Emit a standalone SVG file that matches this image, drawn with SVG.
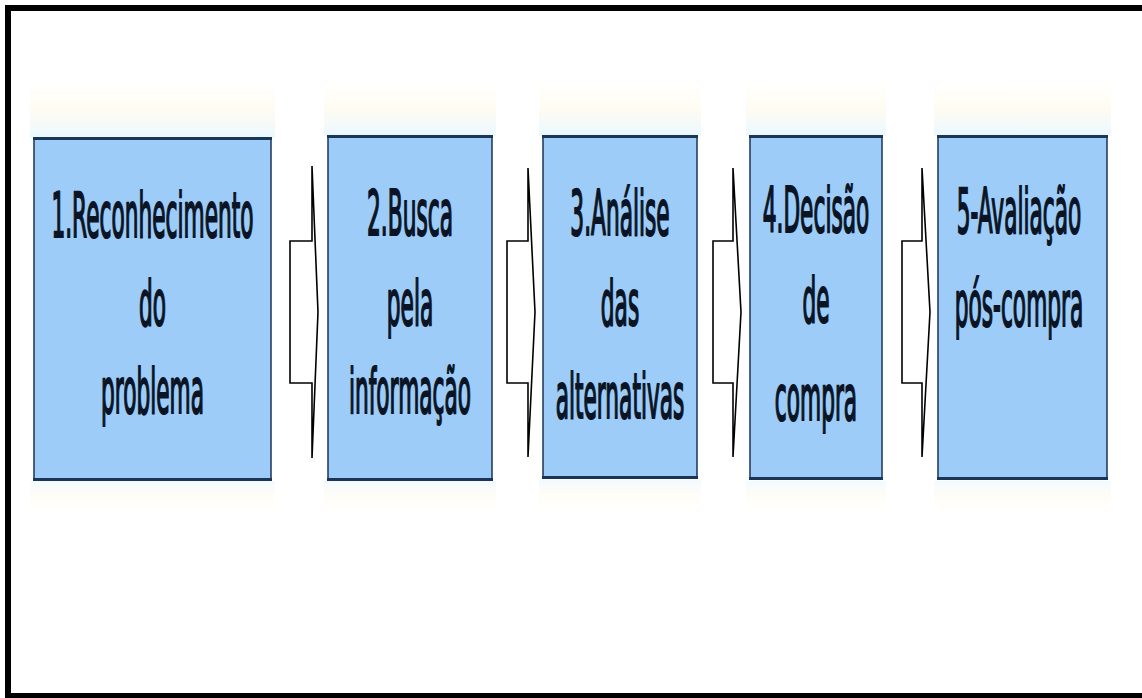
<svg xmlns="http://www.w3.org/2000/svg" width="1142" height="698" viewBox="0 0 1142 698">
<defs>
<style>
.box{fill:#9DCCF9;stroke:#1B3556;stroke-width:1.5}
.edge{fill:#1B3556}
.arrow{fill:#FFFFFF;stroke:#000000;stroke-width:1.6;stroke-linejoin:miter}
.lbl{font-family:"DejaVu Sans","Verdana",sans-serif;font-size:62px;fill:#0A1424;stroke:#0A1424;stroke-width:2.2;text-anchor:middle}
.glow{fill:url(#glowTop)}
.glowB{fill:url(#glowBot)}
</style>
<linearGradient id="glowTop" x1="0" y1="0" x2="0" y2="1">
<stop offset="0" stop-color="#FFFDF3" stop-opacity="0"/>
<stop offset="0.5" stop-color="#FFFBEF" stop-opacity="0.8"/>
<stop offset="1" stop-color="#EAF8FF" stop-opacity="1"/>
</linearGradient>
<linearGradient id="glowBot" x1="0" y1="0" x2="0" y2="1">
<stop offset="0" stop-color="#F2FAFF" stop-opacity="1"/>
<stop offset="0.5" stop-color="#FFFCF2" stop-opacity="0.7"/>
<stop offset="1" stop-color="#FFFDF3" stop-opacity="0"/>
</linearGradient>
</defs>
<rect x="0" y="0" width="1142" height="698" fill="#FFFFFF"/>
<rect x="8" y="8" width="1150" height="688" fill="none" stroke="#000000" stroke-width="6"/>

<g id="connectors">
<polygon class="arrow" points="290,241 312,241 312,166 318,312 312,458 312,383 290,383"/>
<polygon class="arrow" points="507,241 528,241 528,168 535,312 528,457 528,383 507,383"/>
<polygon class="arrow" points="713,241 733,241 733,168 741,312 733,457 733,383 713,383"/>
<polygon class="arrow" points="902,241 922,241 922,168 930,312 922,457 922,383 902,383"/>
</g>

<g id="node1">
<rect class="glow" x="30" y="80" width="245" height="58"/>
<rect class="glowB" x="30" y="481" width="245" height="32"/>
<rect class="box" x="34" y="138" width="237" height="342"/>
<rect class="edge" x="33" y="137" width="239" height="3"/>
<rect class="edge" x="33" y="478" width="239" height="3"/>
<g transform="translate(152.5,0) scale(0.35,1)">
<text class="lbl" x="0" y="237">1.Reconhecimento</text>
<text class="lbl" x="0" y="325">do</text>
<text class="lbl" x="0" y="413">problema</text>
</g>
</g>

<g id="node2">
<rect class="glow" x="324" y="78" width="172" height="58"/>
<rect class="glowB" x="324" y="481" width="172" height="32"/>
<rect class="box" x="328" y="136" width="164" height="344"/>
<rect class="edge" x="327" y="135" width="166" height="3"/>
<rect class="edge" x="327" y="478" width="166" height="3"/>
<g transform="translate(410,0) scale(0.35,1)">
<text class="lbl" x="0" y="235">2.Busca</text>
<text class="lbl" x="0" y="325">pela</text>
<text class="lbl" x="0" y="413">informação</text>
</g>
</g>

<g id="node3">
<rect class="glow" x="539" y="78" width="162" height="58"/>
<rect class="glowB" x="539" y="480" width="162" height="32"/>
<rect class="box" x="543" y="136" width="154" height="342"/>
<rect class="edge" x="542" y="135" width="156" height="3"/>
<rect class="edge" x="542" y="476" width="156" height="3"/>
<g transform="translate(620,0) scale(0.35,1)">
<text class="lbl" x="0" y="235">3.Análise</text>
<text class="lbl" x="0" y="325">das</text>
<text class="lbl" x="0" y="418">alternativas</text>
</g>
</g>

<g id="node4">
<rect class="glow" x="746" y="78" width="140" height="58"/>
<rect class="glowB" x="746" y="481" width="140" height="32"/>
<rect class="box" x="750" y="136" width="132" height="343"/>
<rect class="edge" x="749" y="135" width="134" height="3"/>
<rect class="edge" x="749" y="477" width="134" height="3"/>
<g transform="translate(816,0) scale(0.35,1)">
<text class="lbl" x="0" y="232">4.Decisão</text>
<text class="lbl" x="0" y="322">de</text>
<text class="lbl" x="0" y="420">compra</text>
</g>
</g>

<g id="node5">
<rect class="glow" x="934" y="78" width="177" height="58"/>
<rect class="glowB" x="934" y="481" width="177" height="32"/>
<rect class="box" x="938" y="136" width="169" height="343"/>
<rect class="edge" x="937" y="135" width="171" height="3"/>
<rect class="edge" x="937" y="477" width="171" height="3"/>
<g transform="translate(1019,0) scale(0.35,1)">
<text class="lbl" x="0" y="233">5-Avaliação</text>
<text class="lbl" x="0" y="326">pós-compra</text>
</g>
</g>
</svg>
